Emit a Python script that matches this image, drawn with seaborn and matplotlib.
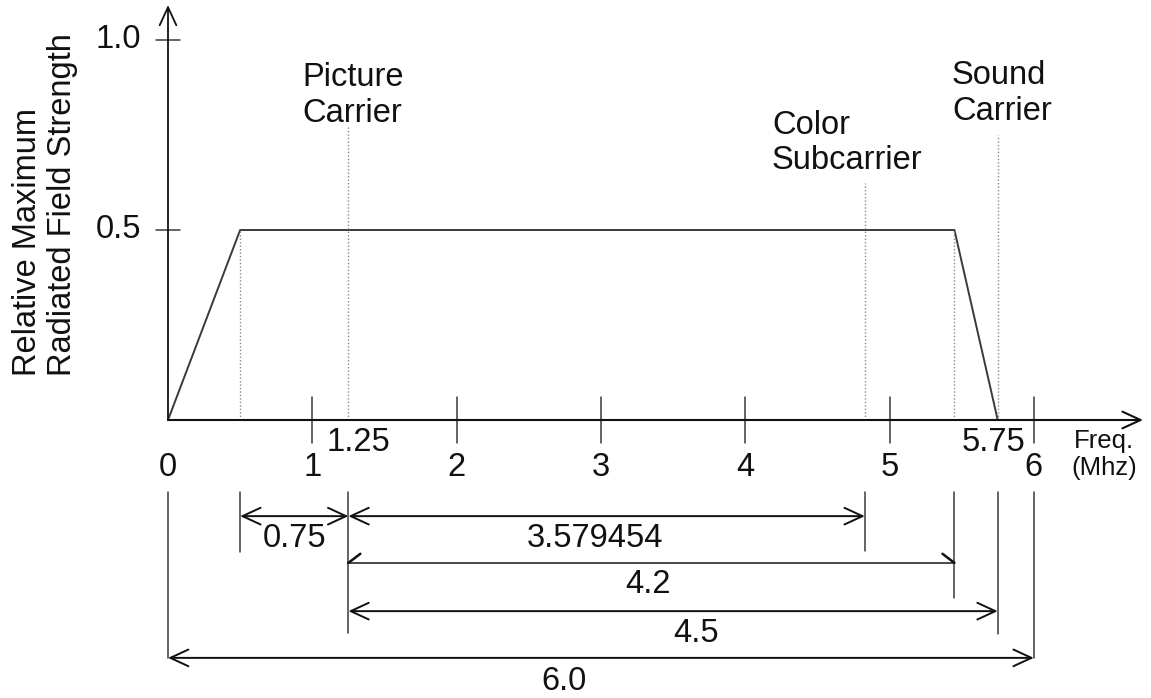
import matplotlib
matplotlib.use('Agg')
import matplotlib.pyplot as plt
import seaborn as sns

# response of the channel (MHz vs relative field strength)
freq = [0, 0.5, 5.45, 5.75]
strength = [0, 0.5, 0.5, 0]

xtick_vals = [0, 1, 2, 3, 4, 5, 6]
ytick_vals = [0.5, 1.0]
extra_ticks = [1.25, 5.75]

carrier_names = ['Picture\nCarrier', 'Color\nSubcarrier', 'Sound\nCarrier']
carrier_freq = [1.25, 4.829, 5.75]

dim_start = [0.5, 1.25, 1.25, 1.25, 0]
dim_end = [1.25, 4.829, 5.45, 5.75, 6]
dim_labels = ['0.75', '3.579454', '4.2', '4.5', '6.0']

# ---- layout (data units) ----
dim_row_y = [-0.253, -0.253, -0.376, -0.503, -0.626]
dim_label_x = [0.88, 2.96, 3.326, 3.659, 2.744]
dim_label_y = [-0.311, -0.311, -0.434, -0.561, -0.687]
half_head = [False, False, True, False, False]
ext_top = -0.189
ext_bottom = {0: -0.626, 0.5: -0.347, 1.25: -0.561, 4.829: -0.345,
              5.45: -0.468, 5.75: -0.563, 6: -0.626}
carrier_top = [0.771, 0.624, 0.75]
carrier_txt_x = [0.929, 4.186, 5.433]
carrier_txt_y = [0.853, 0.729, 0.86]

sns.set_theme(style='white')
plt.rcParams['font.family'] = ['Liberation Sans', 'DejaVu Sans']

ink = '#111111'
line_c = '#3a3a3a'
dot_c = '#8a8a8a'
fs = 23.5

fig = plt.figure(figsize=(11.51, 6.98), dpi=100)
ax = fig.add_axes([0, 0, 1, 1])
ax.set_xlim(-168 / 144.3, 983 / 144.3)
ax.set_ylim(-278 / 380, 420 / 380)
ax.axis('off')

# trapezoid
sns.lineplot(x=freq, y=strength, sort=False, estimator=None, color=line_c,
             lw=1.4, ax=ax)

# axes with arrows
arrow_kw = dict(color=ink, shrinkA=0, shrinkB=0, mutation_scale=20)
ax.annotate('', xy=(6.757, 0), xytext=(0, 0),
            arrowprops=dict(arrowstyle='->, head_length=0.65, head_width=0.3',
                            lw=1.5, **arrow_kw))
ax.annotate('', xy=(0, 1.092), xytext=(0, 0),
            arrowprops=dict(arrowstyle='->, head_length=0.65, head_width=0.3',
                            lw=1.3, **arrow_kw))

# ticks
for v in xtick_vals[1:]:
    ax.plot([v, v], [-0.0605, 0.0605], color=line_c, lw=1.1)
    ax.text(v, -0.124, str(v), ha='center', va='center', fontsize=fs, color=ink)
ax.text(0, -0.124, '0', ha='center', va='center', fontsize=fs, color=ink)
for v in ytick_vals:
    ax.plot([-0.083, 0.083], [v, v], color=line_c, lw=1.1)
    ax.text(-0.187, v, f'{v:.1f}', ha='right', va='center', fontsize=fs, color=ink)
for v, off in zip(extra_ticks, [7, -3]):
    ax.annotate(str(v), xy=(v, -0.058), xytext=(off, 0), textcoords='offset points',
                ha='center', va='center', fontsize=fs, color=ink)
ax.text(6.486, -0.09, 'Freq.\n(Mhz)', ha='center', va='center', fontsize=18.5,
        color=ink, linespacing=1.15)

# dotted guides above the axis
for x in [freq[1], freq[2]]:
    ax.plot([x, x], [0, strength[1]], color=dot_c, lw=1, ls=(0, (1, 1.5)))
for x, top in zip(carrier_freq, carrier_top):
    ax.plot([x, x], [0, top], color=dot_c, lw=1, ls=(0, (1, 1.5)))

for name, tx, ty in zip(carrier_names, carrier_txt_x, carrier_txt_y):
    ax.text(tx, ty, name, ha='left', va='center', fontsize=fs, color=ink,
            linespacing=1.2)

# extension lines under the axis
for x, bot in ext_bottom.items():
    ax.plot([x, x], [ext_top, bot], color=line_c, lw=1.1)

# dimension arrows
for s, e, y, lab, lx, ly, half in zip(dim_start, dim_end, dim_row_y, dim_labels,
                                      dim_label_x, dim_label_y, half_head):
    if half:
        ax.plot([s, e], [y, y], color=line_c, lw=1.3)
        ax.plot([s, s + 0.083], [y, y + 0.024], color=ink, lw=1.8)
        ax.plot([e, e - 0.083], [y, y + 0.024], color=ink, lw=1.8)
    else:
        ax.annotate('', xy=(e, y), xytext=(s, y),
                    arrowprops=dict(arrowstyle='<->, head_length=0.65, head_width=0.3',
                                    lw=1.4, **arrow_kw))
    ax.text(lx, ly, lab, ha='center', va='center', fontsize=fs, color=ink)

# y label
ax.text(-0.852, 0.566, 'Relative Maximum\nRadiated Field Strength', rotation=90,
        ha='center', va='center', multialignment='left', fontsize=fs, color=ink,
        linespacing=1.2)

fig.savefig('out.png', dpi=100)
